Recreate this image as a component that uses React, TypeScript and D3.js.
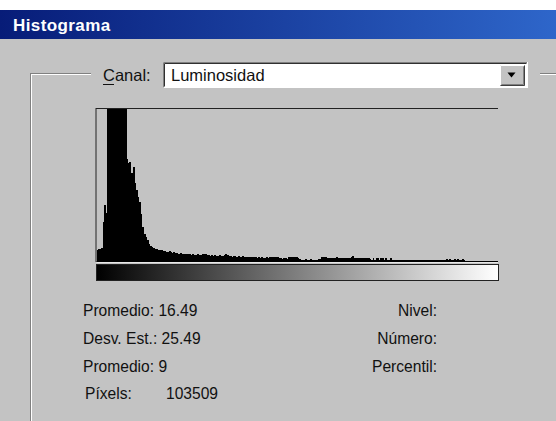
import React from "react";
import * as d3 from "d3";

const title = "Histograma";
const channelLabel = "Canal:";
const channelValue = "Luminosidad";

// Histogram counts per luminance level (0–255), in % of the plot height (values > 100 are clipped)
const counts: number[] = [
  8, 8.5, 8.5, 9, 26, 37, 32, 130, 210, 300,
  380, 420, 390, 330, 280, 230, 190, 160, 125, 67,
  64, 65, 58, 62, 51, 47, 42, 39, 31, 23,
  18, 16, 14, 12, 10.5, 10, 9, 8.5, 8.5, 8,
  8, 7.5, 7, 7, 6.5, 6.5, 7, 6.5, 6, 6.5,
  6, 6, 5.5, 6, 5.5, 5, 5, 5.5, 5, 5,
  4.5, 5, 4.5, 4.5, 5, 4.5, 4.5, 5, 5.5, 5.5,
  4.5, 4.5, 4, 4.5, 4, 4.5, 4, 4, 4.5, 4,
  4, 4.5, 5, 4.5, 4, 4, 3.5, 4, 4, 3.5,
  4, 3.5, 3.5, 4, 3.5, 3.5, 3.5, 3, 3.5, 3,
  3, 3, 2.5, 3, 2.5, 3, 2.5, 2.5, 3, 2.5,
  3, 3.5, 3, 3, 3.5, 3, 2.5, 2.5, 2, 2.5,
  2.5, 2, 3.5, 3.5, 3, 3.5, 3.5, 3, 2.5, 2,
  1.5, 1.5, 1.5, 2, 1.5, 1.5, 2, 1.5, 1.5, 1.5,
  1.5, 2, 2, 3, 3, 3, 3, 2.5, 2.5, 2.5,
  2.5, 2.5, 2.5, 3, 2.5, 2.5, 2.5, 2.5, 2.5, 2.5,
  2.5, 2.5, 3, 4, 2.5, 2.5, 2.5, 2.5, 2.5, 2.5,
  2.5, 2.5, 2.5, 2.5, 2, 1.5, 2.5, 1.5, 2.5, 2.5,
  1.5, 2.5, 2.5, 1.5, 2.5, 1.5, 1.5, 2.5, 1.5, 1,
  1, 1, 1, 1, 1, 1, 1, 1, 1, 1,
  1, 1, 1, 1, 1, 1, 1, 1, 1, 1,
  1, 1, 1, 1, 1, 1, 1, 1, 1, 1,
  1, 1, 1.5, 2, 1, 2, 1.5, 1, 2, 1.5,
  2, 1, 1.5, 2, 1, 0.5, 0.5, 0.5, 0.5, 0.5,
  0.5, 0.5, 0.5, 0.5, 0.5, 0.5, 0.5, 0.5, 0.5, 0.5,
  0.5, 0.5, 0.5, 0.5, 0.5, 0.5,
];

const statsLeftLabels = ["Promedio: 16.49", "Desv. Est.: 25.49", "Promedio: 9"];
const pixelsLabel = "Píxels:";
const pixelsValue = "103509";
const statsRightLabels = ["Nivel:", "Número:", "Percentil:"];

const W = 556;
const H = 421;
const BG = "#c3c3c3";
const FONT = "'Liberation Sans', Arial, sans-serif";

export default function App() {
  const plot = { left: 96.5, right: 498, top: 108, bottom: 262 };
  const x = d3.scaleLinear().domain([0, counts.length]).range([plot.left, plot.right]);
  const y = d3.scaleLinear().domain([0, 100]).range([plot.bottom, plot.top]).clamp(true);

  const rowY = [316, 344, 372];

  return (
    <svg
      width={W}
      height={H}
      style={{ position: "absolute", left: 0, top: 0, display: "block" }}
      fontFamily={FONT}
    >
      <defs>
        <linearGradient id="titleGrad" x1="0" x2="1" y1="0" y2="0">
          <stop offset="0" stopColor="#071c78" />
          <stop offset="1" stopColor="#2e66ca" />
        </linearGradient>
        <linearGradient id="lumGrad" x1="0" x2="1" y1="0" y2="0">
          <stop offset="0" stopColor="#000000" />
          <stop offset="1" stopColor="#ffffff" />
        </linearGradient>
      </defs>

      <rect x={0} y={0} width={W} height={H} fill={BG} />
      <rect x={0} y={0} width={W} height={10} fill="#ffffff" />

      {/* title bar */}
      <rect x={0} y={10} width={W} height={29} fill="url(#titleGrad)" />
      <text x={13} y={30.5} fill="#ffffff" fontSize={17} fontWeight="bold" letterSpacing={0.4}>
        {title}
      </text>

      {/* group box etched lines */}
      <line x1={30.5} x2={30.5} y1={73} y2={H} stroke="#808080" />
      <line x1={31.5} x2={31.5} y1={74} y2={H} stroke="#ffffff" />
      <line x1={30} x2={91} y1={73.5} y2={73.5} stroke="#808080" />
      <line x1={31} x2={91} y1={74.5} y2={74.5} stroke="#ffffff" />
      <line x1={540} x2={W} y1={73.5} y2={73.5} stroke="#808080" />
      <line x1={540} x2={W} y1={74.5} y2={74.5} stroke="#ffffff" />

      {/* channel label */}
      <text x={103} y={81} fontSize={16.5} fill="#111">
        {channelLabel}
      </text>
      <line x1={103} x2={114} y1={84.5} y2={84.5} stroke="#111" />

      {/* dropdown */}
      <rect x={163} y={62} width={365} height={26} fill="#ffffff" />
      <path d="M163.5,87.5 V62.5 H527.5" fill="none" stroke="#808080" />
      <path d="M164.5,86.5 V63.5 H526.5" fill="none" stroke="#303030" />
      <path d="M164,87.5 H527.5 V62" fill="none" stroke="#ffffff" />
      <text x={171} y={81} fontSize={16.5} fill="#111">
        {channelValue}
      </text>
      {/* dropdown button */}
      <rect x={500} y={65} width={25} height={21} fill={BG} />
      <path d="M500.5,85.5 V65.5 H524.5" fill="none" stroke="#ffffff" />
      <path d="M500.5,85.5 H524.5 V65.5" fill="none" stroke="#404040" />
      <path d="M501.5,84.5 H523.5 V66.5" fill="none" stroke="#808080" />
      <path d="M507.5,72.5 H515.5 L511.5,77.5 Z" fill="#000" />

      {/* histogram bars */}
      <g shapeRendering="crispEdges">
        {counts.map((c, i) => (
          <rect
            key={i}
            x={x(i)}
            width={x(i + 1) - x(i) + 0.4}
            y={y(c)}
            height={plot.bottom - y(c)}
            fill="#000"
          />
        ))}
      </g>
      <line x1={plot.left} x2={plot.right} y1={plot.bottom - 0.5} y2={plot.bottom - 0.5} stroke="#000" />
      {/* histogram frame: top and left */}
      <line x1={plot.left - 0.5} x2={plot.right} y1={plot.top + 0.5} y2={plot.top + 0.5} stroke="#222" />
      <line x1={plot.left - 0.5} x2={plot.left - 0.5} y1={plot.top} y2={plot.bottom} stroke="#222" />
      <line x1={plot.left} x2={plot.right} y1={plot.bottom + 0.5} y2={plot.bottom + 0.5} stroke="#e8e8e8" />

      {/* luminance gradient bar */}
      <rect x={96.5} y={264.5} width={402} height={16} fill="url(#lumGrad)" stroke="#222" />

      {/* statistics */}
      {statsLeftLabels.map((t, i) => (
        <text key={t} x={83} y={rowY[i]} fontSize={15.6} fill="#111">
          {t}
        </text>
      ))}
      <text x={85} y={399} fontSize={15.6} fill="#111">
        {pixelsLabel}
      </text>
      <text x={166} y={399} fontSize={15.6} fill="#111">
        {pixelsValue}
      </text>
      {statsRightLabels.map((t, i) => (
        <text key={t} x={437} y={rowY[i]} fontSize={15.6} fill="#111" textAnchor="end">
          {t}
        </text>
      ))}
    </svg>
  );
}
